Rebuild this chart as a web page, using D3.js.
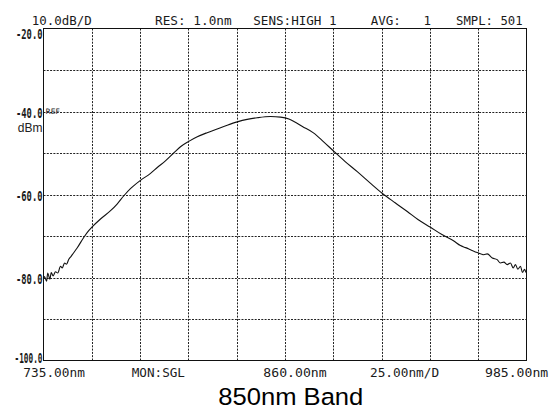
<!DOCTYPE html>
<html>
<head>
<meta charset="utf-8">
<script src="https://cdn.jsdelivr.net/npm/d3@7"></script>
<style>
  body { margin: 0; background: #fff; }
  svg { display: block; }
  .mono { font-family: "DejaVu Sans Mono", "Liberation Mono", monospace; fill: #1a1a1a; }
</style>
</head>
<body>
<div class="osa_chart"></div>
<script>
// width and height of the picture
let svg_width = 560;
let svg_height = 411;

// axis ranges (10 dB/D, 25 nm/D)
let wl_start = 735;
let wl_stop = 985;
let db_top = -20;
let db_bottom = -100;

// grid divisions
let x_divs = [735, 760, 785, 810, 835, 860, 885, 910, 935, 960, 985];
let y_divs = [-20, -30, -40, -50, -60, -70, -80, -90, -100];
let y_labels = [-20, -40, -60, -80, -100];

// trace: wavelength (nm) and level (dBm)
let wavelength = [
  735.0, 735.5, 736.6, 737.2, 738.3, 739.0, 740.0, 741.2, 742.4, 743.8,
  744.7, 745.9, 746.9, 748.1, 749.3, 749.9, 752.4, 755.9, 758.4, 760.2,
  764.5, 769.7, 773.1, 776.6, 780.0, 785.2, 790.4, 793.9, 798.1, 802.4,
  805.9, 810.2, 814.6, 819.7, 824.9, 830.1, 835.3, 840.4, 845.6, 852.5,
  857.7, 862.0, 864.6, 869.0, 874.9, 880.0, 885.3, 891.0, 897.4, 904.0,
  910.3, 917.0, 923.3, 929.0, 935.3, 941.0, 947.4, 950.8, 953.5, 956.0,
  959.5, 962.9, 964.7, 967.3, 969.8, 971.5, 973.3, 975.0, 976.7, 978.1,
  979.3, 980.5, 981.9, 982.9, 984.0, 984.8, 985.0
];
let level = [
  -80.2, -79.8, -80.9, -78.9, -80.4, -78.8, -79.6, -78.6, -78.9, -77.3,
  -77.7, -76.5, -76.8, -75.6, -74.9, -74.5, -72.9, -70.3, -68.7, -67.8,
  -65.9, -63.9, -62.3, -60.3, -58.6, -56.6, -54.9, -53.5, -51.9, -50.0,
  -48.5, -47.2, -46.1, -45.1, -44.2, -43.3, -42.5, -41.9, -41.5, -41.2,
  -41.35, -41.8, -42.4, -43.6, -45.2, -47.3, -49.6, -52.0, -54.5, -57.2,
  -59.7, -62.0, -64.1, -66.1, -67.9, -69.6, -71.2, -72.3, -72.8, -73.3,
  -74.0, -74.5, -74.3, -75.3, -75.7, -76.5, -76.3, -76.9, -76.5, -77.7,
  -76.9, -78.0, -77.3, -78.8, -78.0, -78.8, -78.3
];

// screen annotations
let header_texts = ["10.0dB/D", "RES: 1.0nm", "SENS:HIGH 1", "AVG:   1", "SMPL: 501"];
let footer_texts = ["735.00nm", "MON:SGL", "860.00nm", "25.00nm/D", "985.00nm"];
let title_text = "850nm Band";

// plot frame
let plot_left = 43.5;
let plot_right = 526.5;
let plot_top = 28.5;
let plot_bottom = 360.5;

// scales
let x_scale = d3.scaleLinear()
                .domain([wl_start, wl_stop])
                .range([plot_left, plot_right]);

let y_scale = d3.scaleLinear()
                .domain([db_bottom, db_top])
                .range([plot_bottom, plot_top]);

let svg = d3.select('.osa_chart')
            .append('svg')
            .attr('width', svg_width)
            .attr('height', svg_height);

// ================================================
// dotted grid
function insertGrid(svg) {
    let grid = svg.append('g')
                  .attr('stroke', '#222')
                  .attr('stroke-width', 1)
                  .attr('stroke-dasharray', '2,1.3');

    grid.selectAll('line.vgrid')
        .data(x_divs.slice(1, -1))
        .enter()
        .append('line')
        .attr('class', 'vgrid')
        .attr('x1', d => Math.round(x_scale(d)) + 0.5)
        .attr('x2', d => Math.round(x_scale(d)) + 0.5)
        .attr('y1', plot_top)
        .attr('y2', plot_bottom);

    grid.selectAll('line.hgrid')
        .data(y_divs.slice(1, -1))
        .enter()
        .append('line')
        .attr('class', 'hgrid')
        .attr('x1', plot_left)
        .attr('x2', plot_right)
        .attr('y1', d => Math.round(y_scale(d)) + 0.5)
        .attr('y2', d => Math.round(y_scale(d)) + 0.5);
}

function insertFrame(svg) {
    svg.append('rect')
       .attr('x', plot_left)
       .attr('y', plot_top)
       .attr('width', plot_right - plot_left)
       .attr('height', plot_bottom - plot_top)
       .attr('fill', 'none')
       .attr('stroke', '#111')
       .attr('stroke-width', 1);
}

function insertTrace(svg) {
    let points = wavelength.map((w, i) => [w, level[i]]);
    let line = d3.line()
                 .curve(d3.curveMonotoneX)
                 .x(d => x_scale(d[0]))
                 .y(d => y_scale(d[1]));
    svg.append('path')
       .datum(points)
       .attr('d', line)
       .attr('fill', 'none')
       .attr('stroke', '#111')
       .attr('stroke-width', 1.1)
       .attr('stroke-linejoin', 'round');
}

// narrow screen font: squeeze each label horizontally to the wanted width
function squeeze(sel, widthOf) {
    sel.each(function(d, i) {
        let natural = this.getComputedTextLength();
        let sx = widthOf(d, i) / natural;
        let t = d3.select(this);
        t.attr('transform', 'translate(' + t.attr('data-x') + ',' + t.attr('data-y') + ') scale(' + sx + ',1)');
    });
}

function insertYLabels(svg) {
    let labels = svg.selectAll('text.ylab')
       .data(y_labels)
       .enter()
       .append('text')
       .attr('class', 'ylab mono')
       .attr('data-x', plot_left - 1)
       .attr('data-y', d => Math.min(Math.max(y_scale(d) + 1, plot_top + 5), plot_bottom - 3) + 5)
       .attr('text-anchor', 'end')
       .attr('font-size', 14)
       .attr('font-weight', 'bold')
       .text(d => d.toFixed(1));
    squeeze(labels, d => d.toFixed(1).length > 5 ? 28 : 26.5);

    // reference level marker and unit
    svg.append('text')
       .attr('x', plot_left + 2)
       .attr('y', y_scale(-40) + 2)
       .attr('font-family', 'DejaVu Sans, sans-serif')
       .attr('font-size', 7.5)
       .attr('fill', '#222')
       .text('REF');

    svg.append('text')
       .attr('x', plot_left - 1)
       .attr('y', y_scale(-40) + 20)
       .attr('text-anchor', 'end')
       .attr('font-family', 'Liberation Sans, Arial, sans-serif')
       .attr('font-size', 12)
       .attr('fill', '#222')
       .text('dBm');
}

function insertTexts(svg) {
    let header_x = [31.7, 155, 253.3, 370.7, 456];
    let header_len = [60, 76.7, 83.4, 60.3, 66.7];
    let heads = svg.selectAll('text.head')
       .data(header_texts)
       .enter()
       .append('text')
       .attr('class', 'head mono')
       .attr('data-x', (d, i) => header_x[i])
       .attr('data-y', 24.5)
       .attr('font-size', 13)
       .style('white-space', 'pre')
       .text(d => d);
    squeeze(heads, (d, i) => header_len[i]);

    let footer_x = [23.3, 131.7, 263.3, 370, 485];
    let footer_len = [61.7, 53.3, 63.4, 69.3, 63.3];
    let foots = svg.selectAll('text.foot')
       .data(footer_texts)
       .enter()
       .append('text')
       .attr('class', 'foot mono')
       .attr('data-x', (d, i) => footer_x[i])
       .attr('data-y', 376.5)
       .attr('font-size', 12.5)
       .text(d => d);
    squeeze(foots, (d, i) => footer_len[i]);

    svg.append('text')
       .attr('x', 290.8)
       .attr('y', 405)
       .attr('text-anchor', 'middle')
       .attr('font-family', 'Liberation Sans, Arial, sans-serif')
       .attr('font-size', 24.5)
       .attr('textLength', 145)
       .attr('lengthAdjust', 'spacingAndGlyphs')
       .attr('fill', '#000')
       .text(title_text);
}

// ================================================
insertGrid(svg);
insertFrame(svg);
insertTrace(svg);
insertYLabels(svg);
insertTexts(svg);
</script>
</body>
</html>
